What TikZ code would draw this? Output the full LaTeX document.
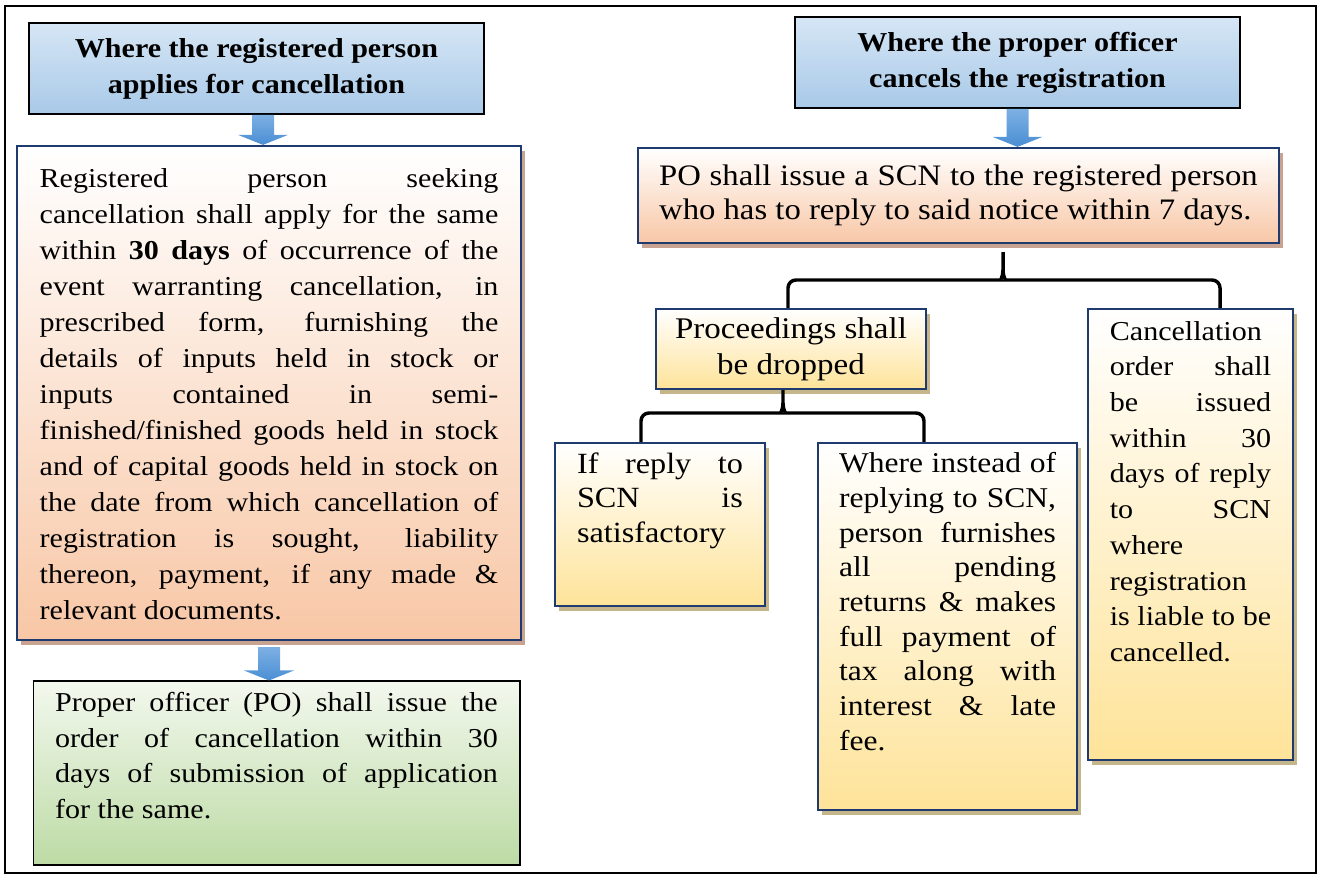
\documentclass[tikz,border=0pt]{standalone}
\usepackage{fontspec}
\setmainfont[FakeStretch=1.1]{Liberation Serif}
\usetikzlibrary{calc,shadows}
\definecolor{navy}{HTML}{1F3A6E}
\definecolor{hdtop}{HTML}{D6E6F5}
\definecolor{hdbot}{HTML}{A8C9E8}
\definecolor{salbot}{HTML}{F8C7A6}
\definecolor{ylwbot}{HTML}{FEE399}
\definecolor{grntop}{HTML}{F3F8EE}
\definecolor{grnbot}{HTML}{BDDBA5}
\definecolor{shdsal}{HTML}{C9A392}
\definecolor{shdylw}{HTML}{C5B58A}
\definecolor{arwtop}{HTML}{7DB0E3}
\definecolor{arwbot}{HTML}{4A8ED4}
% one justified line of a box
\newcommand{\jl}[1]{\makebox[\linewidth][s]{#1}\\}
% block arrow from #1 down to its tip #2
\newcommand{\blkarrow}[2]{%
  \path[blk] ($(#1)+(-11,0)$) -- ($(#2)+(-11,-10)$) -- ($(#2)+(-25,-10)$) -- (#2)
    -- ($(#2)+(25,-10)$) -- ($(#2)+(11,-10)$) -- ($(#1)+(11,0)$) -- cycle;}

\begin{document}
\begin{tikzpicture}[x=0.75pt, y=-0.75pt,
    hdr/.style={draw=black, line width=1.5pt, top color=hdtop, bottom color=hdbot,
                align=center, inner sep=0pt, font=\fontsize{20.5}{27}\selectfont\bfseries},
    base/.style={draw=navy, line width=1.7pt, inner sep=0pt},
    sal/.style={base, top color=white, bottom color=salbot,
                drop shadow={shadow xshift=3pt, shadow yshift=-4pt, fill=shdsal, opacity=1}},
    ylw/.style={base, top color=white, bottom color=ylwbot,
                drop shadow={shadow xshift=3pt, shadow yshift=-4pt, fill=shdylw, opacity=1}},
    grn/.style={draw=black, line width=0.8pt, top color=grntop, bottom color=grnbot, inner sep=0pt},
    brc/.style={line width=2.6pt, black},
    blk/.style={top color=arwtop, bottom color=arwbot},
  ]
  \useasboundingbox (0,0) rectangle (1319,877);
  \draw[line width=1.8pt] (5,6) rectangle (1316,873);

  % left column: registered person applies
  \node[hdr, minimum width=341.25pt, minimum height=68.25pt] (hl) at (256.5,68.5)
       {Where the registered person\\applies for cancellation};
  \node[sal, font=\fontsize{20.5}{27}\selectfont, inner xsep=17pt, inner ysep=11.85pt] (rb) at (269,393)
       {\parbox[c][346.8pt][t]{344pt}{\strut
        \jl{Registered person seeking}
        \jl{cancellation shall apply for the same}
        \jl{within \textbf{30 days} of occurrence of the}
        \jl{event warranting cancellation, in}
        \jl{prescribed form, furnishing the}
        \jl{details of inputs held in stock or}
        \jl{inputs contained in semi-}
        \jl{finished/finished goods held in stock}
        \jl{and of capital goods held in stock on}
        \jl{the date from which cancellation of}
        \jl{registration is sought, liability}
        \jl{thereon, payment, if any made \&}
        relevant documents.}};
  \node[grn, font=\fontsize{20.5}{26.6}\selectfont, inner xsep=16.6pt, inner ysep=4.6pt] (gb) at (276.5,773)
       {\parbox[c][128.8pt][t]{332pt}{\strut
        \jl{Proper officer (PO) shall issue the}
        \jl{order of cancellation within 30}
        \jl{days of submission of application}
        for the same.}};

  % right column: proper officer cancels
  \node[hdr, minimum width=333.75pt, minimum height=68.25pt] (hr) at (1017.5,62.5)
       {Where the proper officer\\cancels the registration};
  \node[sal, font=\fontsize{22.3}{26}\selectfont, inner xsep=15.9pt, minimum height=71.25pt] (scn) at (958.5,195.5)
       {\parbox{449pt}{\jl{PO shall issue a SCN to the registered person}
        who has to reply to said notice within 7 days.}};
  \node[ylw, font=\fontsize{22.5}{26.8}\selectfont, align=center, minimum width=202.5pt, minimum height=60pt] (pd) at (791,349)
       {Proceedings shall\\be dropped};
  \node[ylw, font=\fontsize{22}{25.9}\selectfont, inner xsep=16.5pt, inner ysep=4.4pt] (ir) at (660,524.5)
       {\parbox[c][113.45pt][t]{124.5pt}{\strut
        \jl{If reply to}
        \jl{SCN is}
        satisfactory}};
  \node[ylw, font=\fontsize{21.5}{26}\selectfont, inner xsep=15.75pt, inner ysep=4.1pt] (wi) at (947.5,626.5)
       {\parbox[c][267pt][t]{162.75pt}{\strut
        \jl{Where instead of}
        \jl{replying to SCN,}
        \jl{person furnishes}
        \jl{all pending}
        \jl{returns \& makes}
        \jl{full payment of}
        \jl{tax along with}
        \jl{interest \& late}
        fee.}};
  \node[ylw, font=\fontsize{20.5}{26.8}\selectfont, inner xsep=16.4pt, inner ysep=4.5pt] (cn) at (1190.5,534.5)
       {\parbox[c][329.25pt][t]{121pt}{\strut
        Cancellation\\
        \jl{order shall}
        \jl{be issued}
        \jl{within 30}
        \jl{days of reply}
        \jl{to SCN}
        where\\
        registration\\
        \jl{is liable to be}
        cancelled.}};

  % braces
  \coordinate (j1) at (1003,280);
  \coordinate (j2) at (783,413);
  \draw[brc] ($(pd.north)+(-3,0)$) [rounded corners=6pt] |- ($(j1)+(-10,0)$) [sharp corners]
        .. controls ($(j1)+(-3,0)$) and ($(j1)+(0,-3)$) .. ($(j1)+(0,-10)$) -- ($(j1 |- scn.south)+(0,8)$);
  \draw[brc] ($(cn.north)+(29.5,0)$) [rounded corners=6pt] |- ($(j1)+(10,0)$) [sharp corners]
        .. controls ($(j1)+(3,0)$) and ($(j1)+(0,-3)$) .. ($(j1)+(0,-10)$);
  \draw[brc] ($(ir.north)+(-19,0)$) [rounded corners=6pt] |- ($(j2)+(-10,0)$) [sharp corners]
        .. controls ($(j2)+(-3,0)$) and ($(j2)+(0,-3)$) .. ($(j2)+(0,-10)$) -- (j2 |- pd.south);
  \draw[brc] ($(wi.north)+(-23.5,0)$) [rounded corners=6pt] |- ($(j2)+(10,0)$) [sharp corners]
        .. controls ($(j2)+(3,0)$) and ($(j2)+(0,-3)$) .. ($(j2)+(0,-10)$);

  % block arrows
  \path (hl.south) ++(6.5,0) coordinate (a1t);
  \coordinate (a1b) at (a1t |- rb.north);
  \path (rb.south) ++(0,6) coordinate (a2t);
  \coordinate (a2b) at (a2t |- gb.north);
  \coordinate (a3t) at (hr.south);
  \coordinate (a3b) at (a3t |- scn.north);
  \blkarrow{a1t}{a1b}
  \blkarrow{a2t}{a2b}
  \blkarrow{a3t}{a3b}
\end{tikzpicture}
\end{document}
